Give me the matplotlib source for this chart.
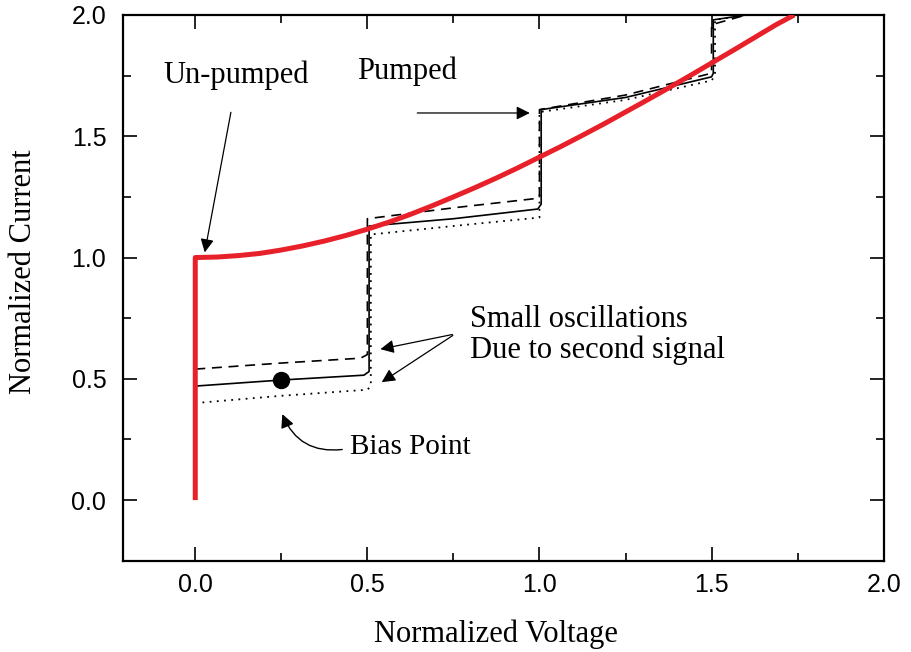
import matplotlib
matplotlib.use("Agg")
import matplotlib.pyplot as plt
from matplotlib.ticker import MultipleLocator

# un-pumped IV curve (red)
unp_x = [0.0, 0.0, 0.0625, 0.125, 0.1875, 0.25, 0.3125, 0.375, 0.4375, 0.5,
         0.5625, 0.625, 0.6875, 0.75, 0.8125, 0.875, 0.9375, 1.0,
         1.0625, 1.125, 1.1875, 1.25, 1.3125, 1.375, 1.4375, 1.5,
         1.5625, 1.625, 1.6875, 1.74]
unp_y = [0.0, 1.0, 1.002, 1.008, 1.017, 1.031, 1.048, 1.068, 1.091, 1.117,
         1.146, 1.178, 1.213, 1.25, 1.288, 1.328, 1.370, 1.414,
         1.458, 1.504, 1.551, 1.600, 1.649, 1.699, 1.750, 1.802,
         1.854, 1.907, 1.960, 2.0]

# pumped curves (photon steps)
solid_x = [0.0, 0.25, 0.49, 0.505, 0.505, 0.75, 0.995, 1.005, 1.005, 1.25, 1.5, 1.505, 1.505, 1.6]
solid_y = [0.47, 0.495, 0.515, 0.53, 1.13, 1.16, 1.20, 1.22, 1.61, 1.66, 1.745, 1.76, 1.98, 2.0]
dash_x = [0.0, 0.25, 0.48, 0.5, 0.5, 0.75, 1.0, 1.0, 1.25, 1.5, 1.5, 1.6]
dash_y = [0.54, 0.565, 0.585, 0.60, 1.16, 1.205, 1.245, 1.61, 1.67, 1.76, 1.96, 2.0]
dot_x = [0.0, 0.25, 0.5, 0.51, 0.51, 0.75, 1.0, 1.0, 1.25, 1.5, 1.51, 1.51, 1.6]
dot_y = [0.40, 0.43, 0.455, 0.47, 1.095, 1.13, 1.165, 1.60, 1.65, 1.73, 1.75, 1.98, 2.0]

bias_x, bias_y = 0.25, 0.495

plt.rcParams['font.family'] = ['Liberation Sans', 'DejaVu Sans']
serif = ['Liberation Serif', 'DejaVu Serif']

fig = plt.figure(figsize=(9.11, 6.52), dpi=100)
ax = fig.add_axes([0.135, 0.14, 0.835, 0.837])

ax.plot(solid_x, solid_y, color='black', lw=1.2)
ax.plot(dash_x, dash_y, color='black', lw=1.2, ls=(0, (6, 4)))
ax.plot(dot_x, dot_y, color='black', lw=1.3, ls=(0, (1, 3)))
ax.plot(unp_x, unp_y, color='#e8202a', lw=3.6, solid_capstyle='butt',
        solid_joinstyle='round', zorder=5)
ax.plot([bias_x], [bias_y], 'o', color='black', ms=11.5, zorder=6)

ax.set_xlim(-0.21, 2.0)
ax.set_ylim(-0.25, 2.0)
ax.xaxis.set_major_locator(MultipleLocator(0.5))
ax.xaxis.set_minor_locator(MultipleLocator(0.25))
ax.yaxis.set_major_locator(MultipleLocator(0.5))
ax.yaxis.set_minor_locator(MultipleLocator(0.25))
ax.xaxis.set_major_formatter(plt.FormatStrFormatter('%.1f'))
ax.yaxis.set_major_formatter(plt.FormatStrFormatter('%.1f'))
ax.tick_params(which='both', direction='in', top=True, right=True, labelsize=18, width=1.2)
ax.tick_params(which='major', length=10)
ax.tick_params(axis='x', which='major', pad=9)
ax.tick_params(axis='y', which='major', pad=12)
ax.tick_params(which='minor', length=6)
for s in ax.spines.values():
    s.set_linewidth(1.6)

ax.set_xlabel('Normalized Voltage', family=serif, fontsize=22)
ax.set_ylabel('Normalized Current', family=serif, fontsize=22)
ax.xaxis.set_label_coords(0.49, -0.108)
ax.yaxis.set_label_coords(-0.112, 0.53)

arrow = dict(arrowstyle='-|>', color='black', lw=0.9, mutation_scale=20)
ax.text(0.12, 1.75, 'Un-pumped', family=serif, fontsize=22, ha='center', va='center')
ax.annotate('', xy=(0.026, 1.01), xytext=(0.105, 1.61), arrowprops=arrow)
ax.text(0.614, 1.77, 'Pumped', family=serif, fontsize=22, ha='center', va='center')
ax.annotate('', xy=(0.98, 1.596), xytext=(0.637, 1.596), arrowprops=arrow)
ax.text(0.797, 0.68, 'Small oscillations\nDue to second signal', family=serif,
        fontsize=22, ha='left', va='center', linespacing=1.05)
ax.annotate('', xy=(0.53, 0.62), xytext=(0.755, 0.685), arrowprops=arrow)
ax.annotate('', xy=(0.535, 0.48), xytext=(0.755, 0.685), arrowprops=arrow)
ax.text(0.45, 0.22, 'Bias Point', family=serif, fontsize=21, ha='left', va='center')
ax.annotate('', xy=(0.25, 0.365), xytext=(0.435, 0.21),
            arrowprops=dict(arrowstyle='-|>', color='black', lw=1.0, mutation_scale=20,
                            connectionstyle='arc3,rad=-0.4'))

fig.savefig('out.png', dpi=100)
